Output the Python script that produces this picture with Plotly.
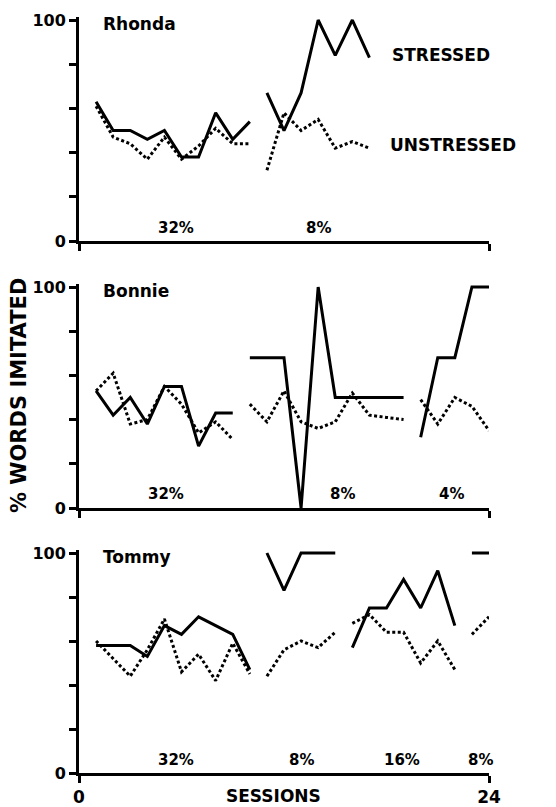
import plotly.graph_objects as go

# ---------------- data ----------------
RHONDA_SESSIONS = [1, 2, 3, 4, 5, 6, 7, 8, 9, 10, None, 11, 12, 13, 14, 15, 16, 17]
RHONDA_STRESSED = [63, 50, 50, 46, 50, 38, 38, 58, 46, 54, None, 67, 50, 67, 100, 84, 100, 83]
RHONDA_UNSTRESSED = [61, 47, 44, 37, 47, 37, 43, 51, 44, 44, None, 32, 58, 50, 55, 42, 45, 42]
RHONDA_PHASES = ["32%", "8%"]

BONNIE_SESSIONS = [1, 2, 3, 4, 5, 6, 7, 8, 9, None,
                   10, 11, 12, 13, 14, 15, 16, 17, 18, 19, None,
                   20, 21, 22, 23, 24]
BONNIE_STRESSED = [53, 42, 50, 38, 55, 55, 28, 43, 43, None,
                   68, 68, 68, 0, 100, 50, 50, 50, 50, 50, None,
                   32, 68, 68, 100, 100]
BONNIE_UNSTRESSED = [53, 61, 38, 40, 55, 47, 34, 39, 31, None,
                     47, 39, 53, 39, 36, 39, 52, 42, 41, 40, None,
                     49, 38, 50, 46, 35]
BONNIE_PHASES = ["32%", "8%", "4%"]

TOMMY_SESSIONS = [1, 2, 3, 4, 5, 6, 7, 8, 9, 10, None,
                  11, 12, 13, 14, 15, None,
                  16, 17, 18, 19, 20, 21, 22, None,
                  23, 24]
TOMMY_STRESSED = [58, 58, 58, 53, 67, 63, 71, 67, 63, 47, None,
                  100, 83, 100, 100, 100, None,
                  57, 75, 75, 88, 75, 92, 67, None,
                  100, 100]
TOMMY_UNSTRESSED = [60, 52, 44, 56, 70, 46, 54, 42, 59, 45, None,
                    44, 56, 60, 57, 64, None,
                    68, 72, 64, 64, 50, 60, 47, None,
                    63, 71]
TOMMY_PHASES = ["32%", "8%", "16%", "8%"]

Y_TICKS = [0, 20, 40, 60, 80, 100]
Y_TICK_TEXT = ["0", "", "", "", "", "100"]
X_TICKS = [0, 24]
X_TICK_TEXT = ["0", "24"]

# ---------------- layout helpers ----------------
PAGE_OFFSET = 8            # default body margin of the html page
W, H = 556 - PAGE_OFFSET, 807 - PAGE_OFFSET
FONT = "DejaVu Sans"
X_LEFT_PX, X_RIGHT_PX = 79, 489   # window pixels of x = 0 and x = 24
Y_TOP_EXTRA = 1.5  # a little headroom so lines at 100 are not clipped


def fx(px):
    return (px - PAGE_OFFSET) / W


def fy(py):
    return (H - (py - PAGE_OFFSET)) / H


def ydom(top100_px, bottom0_px):
    scale = (bottom0_px - top100_px) / 100.0
    top_px = top100_px - Y_TOP_EXTRA * scale
    return [fy(bottom0_px), fy(top_px)]


panels = [
    ("Rhonda", RHONDA_SESSIONS, RHONDA_STRESSED, RHONDA_UNSTRESSED, RHONDA_PHASES,
     ydom(20, 241), [5.7, 14.0], [6, 6]),
    ("Bonnie", BONNIE_SESSIONS, BONNIE_STRESSED, BONNIE_UNSTRESSED, BONNIE_PHASES,
     ydom(287, 508), [5.1, 15.4, 21.8], [6.5, 6.5, 6.5]),
    ("Tommy", TOMMY_SESSIONS, TOMMY_STRESSED, TOMMY_UNSTRESSED, TOMMY_PHASES,
     ydom(553, 773), [5.7, 13.0, 18.9, 23.5], [6, 6, 6, 6]),
]

fig = go.Figure()
annotations = []
layout = dict(
    width=W, height=H,
    margin=dict(l=0, r=0, t=0, b=0, autoexpand=False),
    paper_bgcolor="white", plot_bgcolor="white",
    showlegend=False,
    font=dict(family=FONT, color="black"),
)

for i, (name, xs, st, un, phases, dom, px, py) in enumerate(panels):
    n = "" if i == 0 else str(i + 1)
    xa, ya = "x" + n, "y" + n
    fig.add_trace(go.Scatter(x=xs, y=un, mode="lines", xaxis=xa, yaxis=ya,
                             line=dict(color="black", width=3, dash="3px,2.5px"),
                             connectgaps=False, hoverinfo="skip"))
    fig.add_trace(go.Scatter(x=xs, y=st, mode="lines", xaxis=xa, yaxis=ya,
                             line=dict(color="black", width=3),
                             connectgaps=False, hoverinfo="skip"))
    bottom = (i == 2)
    layout["xaxis" + n] = dict(
        domain=[fx(X_LEFT_PX), fx(X_RIGHT_PX)], range=[0, 24], anchor=ya,
        automargin=False,
        showline=True, linecolor="black", linewidth=3, showgrid=False, zeroline=False,
        ticks="outside", ticklen=7, tickwidth=3, tickcolor="black",
        tickvals=X_TICKS, ticktext=X_TICK_TEXT, showticklabels=bottom,
        tickfont=dict(family=FONT, size=17, color="black", weight="bold"),
        fixedrange=True,
    )
    layout["yaxis" + n] = dict(
        domain=dom, range=[0, 100 + Y_TOP_EXTRA], anchor=xa,
        automargin=False,
        showline=True, linecolor="black", linewidth=3, showgrid=False, zeroline=False,
        ticks="outside", ticklen=7, tickwidth=3, tickcolor="black",
        tickvals=Y_TICKS, ticktext=Y_TICK_TEXT,
        tickfont=dict(family=FONT, size=16, color="black", weight="bold"),
        fixedrange=True,
    )
    annotations.append(dict(text="<b>%s</b>" % name, xref=xa, yref=ya, x=1.3, y=98,
                            xanchor="left", yanchor="middle", showarrow=False,
                            font=dict(family=FONT, size=17, color="black")))
    for lab, lx, ly in zip(phases, px, py):
        annotations.append(dict(text="<b>%s</b>" % lab, xref=xa, yref=ya, x=lx, y=ly,
                                xanchor="center", yanchor="middle", showarrow=False,
                                font=dict(family=FONT, size=15, color="black")))

annotations.append(dict(text="<b>STRESSED</b>", xref="x", yref="y", x=18.2, y=84,
                        xanchor="left", yanchor="middle", showarrow=False,
                        font=dict(family=FONT, size=17, color="black")))
annotations.append(dict(text="<b>UNSTRESSED</b>", xref="x", yref="y", x=18.1, y=43.5,
                        xanchor="left", yanchor="middle", showarrow=False,
                        font=dict(family=FONT, size=17, color="black")))
annotations.append(dict(text="<b>% WORDS IMITATED</b>", xref="paper", yref="paper",
                        x=fx(19), y=fy(396), textangle=-90,
                        xanchor="center", yanchor="middle", showarrow=False,
                        font=dict(family=FONT, size=21, color="black")))
annotations.append(dict(text="<b>SESSIONS</b>", xref="paper", yref="paper",
                        x=fx(273), y=fy(796),
                        xanchor="center", yanchor="middle", showarrow=False,
                        font=dict(family=FONT, size=17, color="black")))
layout["annotations"] = annotations
fig.update_layout(**layout)
fig.write_html("out.html")
